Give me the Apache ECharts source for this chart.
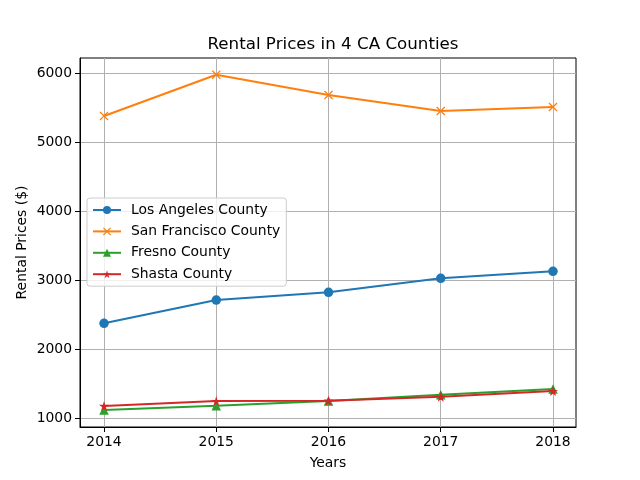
<!DOCTYPE html>
<html><head><meta charset="utf-8">
<script src="https://cdn.jsdelivr.net/npm/echarts@6/dist/echarts.min.js"></script>
<style>html,body{margin:0;padding:0;background:#fff}#c{width:640px;height:480px}</style>
</head><body><div id="c"></div>
<script>
const years = [2014, 2015, 2016, 2017, 2018];
const yTicks = [1000, 2000, 3000, 4000, 5000, 6000];
const seriesNames = ['Los Angeles County', 'San Francisco County', 'Fresno County', 'Shasta County'];
const laValues = [2372, 2710, 2822, 3024, 3126];
const sfValues = [5377, 5975, 5681, 5449, 5507];
const fresnoValues = [1116, 1178, 1246, 1338, 1420];
const shastaValues = [1174, 1246, 1250, 1309, 1391];

const font = 'DejaVu Sans';
const starPath = 'path://M50,0L61,35L98,35L68,57L79,91L50,70L21,91L32,57L2,35L39,35Z';
const colors = ['#1f77b4', '#ff7f0e', '#2ca02c', '#d62728'];
const symbols = ['circle', 'path://M1,0L5,4L9,0L10,1L6,5L10,9L9,10L5,6L1,10L0,9L4,5L0,1Z', 'triangle', starPath];
const sizes = [9.5, 9, 9.5, 10];
const vals = [laValues, sfValues, fresnoValues, shastaValues];

const chart = echarts.init(document.getElementById('c'), null, {renderer: 'canvas'});
chart.setOption({
  animation: false,
  backgroundColor: '#fff',
  title: {
    text: 'Rental Prices in 4 CA Counties', left: 328, top: 31, textAlign: 'center',
    textStyle: {fontFamily: font, fontSize: 16.7, fontWeight: 'normal', color: '#000'}
  },
  grid: {left: 80, right: 64, top: 58, bottom: 53, show: true, borderColor: '#000', borderWidth: 1, backgroundColor: 'transparent'},
  legend: {
    orient: 'vertical', left: 87, top: 198, padding: [5, 6, 5, 5],
    itemWidth: 28, itemHeight: 10, itemGap: 7.4,
    backgroundColor: 'rgba(255,255,255,0.8)', borderColor: '#cccccc', borderWidth: 1, borderRadius: 3,
    textStyle: {fontFamily: font, fontSize: 13.9, color: '#000', padding: [0, 0, 0, 5]},
    data: seriesNames
  },
  xAxis: {
    type: 'value', min: 2013.786, max: 2018.205,
    name: 'Years', nameLocation: 'middle', nameGap: 29,
    nameTextStyle: {fontFamily: font, fontSize: 13.9, color: '#000'},
    axisLine: {show: true, lineStyle: {color: '#000', width: 1}},
    axisTick: {show: true, length: 5, lineStyle: {color: '#000'}, customValues: years},
    axisLabel: {fontFamily: font, fontSize: 13.9, color: '#000', margin: 8, customValues: years, formatter: v => String(v)},
    splitLine: {show: true, lineStyle: {color: '#b0b0b0', width: 1}}
  },
  yAxis: {
    type: 'value', min: 870, max: 6217,
    name: 'Rental Prices ($)', nameLocation: 'middle', nameGap: 51, nameMoveOverlap: false,
    nameTextStyle: {fontFamily: font, fontSize: 13.9, color: '#000'},
    axisLine: {show: true, lineStyle: {color: '#000', width: 1}},
    axisTick: {show: true, length: 5, lineStyle: {color: '#000'}, customValues: yTicks},
    axisLabel: {fontFamily: font, fontSize: 13.9, color: '#000', margin: 8, customValues: yTicks, formatter: v => String(v)},
    splitLine: {show: true, lineStyle: {color: '#b0b0b0', width: 1}}
  },
  series: seriesNames.map((n, i) => ({
    name: n, type: 'line',
    data: years.map((y, j) => [y, vals[i][j]]),
    symbol: symbols[i], symbolSize: sizes[i], showSymbol: true,
    lineStyle: {color: colors[i], width: 2},
    itemStyle: {color: colors[i], borderWidth: 0},
    color: colors[i],
    emphasis: {disabled: true}
  }))
});
</script></body></html>
